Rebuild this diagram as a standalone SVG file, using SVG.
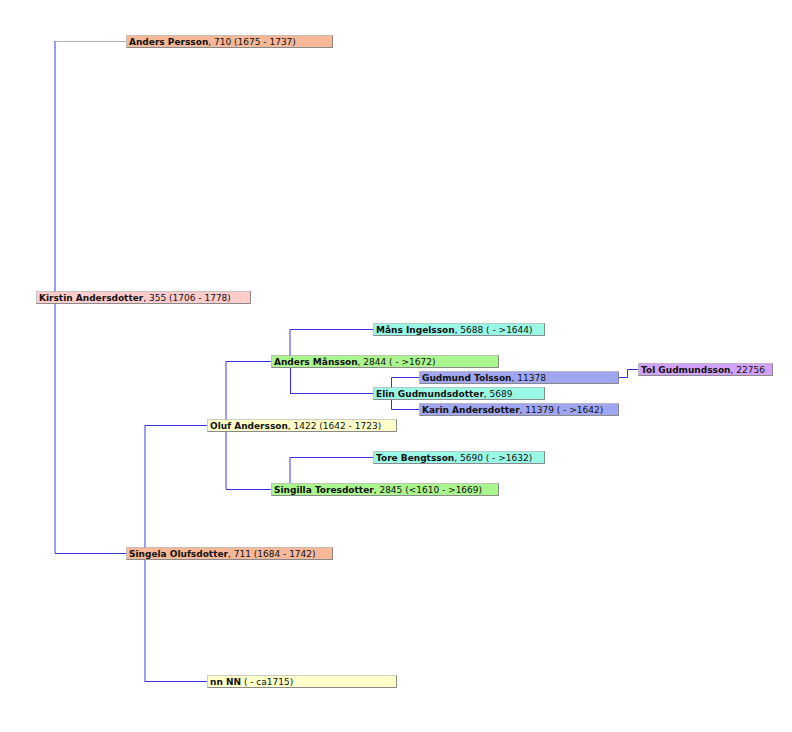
<svg xmlns="http://www.w3.org/2000/svg" width="792" height="732" viewBox="0 0 792 732">
<style>
.bg{fill:#ffffff}
.box{stroke:#9a9a9a;stroke-width:1;stroke-dasharray:1 1}
.sh{fill:none;stroke:#8a8a8a;stroke-width:1}
.t{font-family:"DejaVu Sans",Verdana,sans-serif;font-size:9px;fill:#111}
.n{font-weight:bold}
.v{fill:none;stroke:#9c9cf6;stroke-width:2}
.h{fill:none;stroke:#3333d8;stroke-width:1}
.g{fill:none;stroke:#b4b4b4;stroke-width:1}
.salmon{fill:#f5b899}
.pink{fill:#ffcccc}
.yellow{fill:#ffffcc}
.green{fill:#aaf58e}
.aqua{fill:#99f7e6}
.blue{fill:#a0a6f0}
.violet{fill:#d2a2f8}
</style>
<rect class="bg" x="0" y="0" width="792" height="732"/>
<g id="connectors">
  <path class="g" d="M55 41.5H126"/>
  <path class="v" d="M55 41V553"/>
  <path class="h" d="M55 553.5H126"/>
  <path class="v" d="M145 425V682"/>
  <path class="h" d="M145 425.5H207"/>
  <path class="h" d="M145 681.5H207"/>
  <path class="v" d="M226 361V489"/>
  <path class="h" d="M226 361.5H271"/>
  <path class="h" d="M226 489.5H271"/>
  <path class="v" d="M290 329V368"/>
  <path class="h" d="M290.5 368V393.5"/>
  <path class="h" d="M290 329.5H373"/>
  <path class="h" d="M290 393.5H373"/>
  <path class="v" d="M290 457V483"/>
  <path class="h" d="M290 457.5H373"/>
  <path class="h" d="M391.5 377.5V409.5"/>
  <path class="h" d="M391.5 377.5H419"/>
  <path class="h" d="M391.5 409.5H419"/>
  <path class="h" d="M619 377.5H627.5V369.5H638"/>
</g>
<g id="n710">
  <rect class="box salmon" x="126.5" y="35.5" width="206" height="12"/>
  <path class="sh" d="M126.5 47.5H332.5V35.5"/>
  <text class="t" x="129" y="45"><tspan class="n">Anders Persson</tspan>, 710 (1675 - 1737)</text>
</g>
<g id="n355">
  <rect class="box pink" x="36.5" y="291.5" width="214" height="12"/>
  <path class="sh" d="M36.5 303.5H250.5V291.5"/>
  <text class="t" x="39" y="301"><tspan class="n">Kirstin Andersdotter</tspan>, 355 (1706 - 1778)</text>
</g>
<g id="n5688">
  <rect class="box aqua" x="373.5" y="323.5" width="171" height="12"/>
  <path class="sh" d="M373.5 335.5H544.5V323.5"/>
  <text class="t" x="376" y="333"><tspan class="n">Måns Ingelsson</tspan>, 5688 ( - &gt;1644)</text>
</g>
<g id="n2844">
  <rect class="box green" x="271.5" y="355.5" width="227" height="12"/>
  <path class="sh" d="M271.5 367.5H498.5V355.5"/>
  <text class="t" x="274" y="365"><tspan class="n">Anders Månsson</tspan>, 2844 ( - &gt;1672)</text>
</g>
<g id="n11378">
  <rect class="box blue" x="419.5" y="371.5" width="199" height="12"/>
  <path class="sh" d="M419.5 383.5H618.5V371.5"/>
  <text class="t" x="422" y="381"><tspan class="n">Gudmund Tolsson</tspan>, 11378</text>
</g>
<g id="n22756">
  <rect class="box violet" x="638.5" y="363.5" width="134" height="12"/>
  <path class="sh" d="M638.5 375.5H772.5V363.5"/>
  <text class="t" x="641" y="373"><tspan class="n">Tol Gudmundsson</tspan>, 22756</text>
</g>
<g id="n5689">
  <rect class="box aqua" x="373.5" y="387.5" width="171" height="12"/>
  <path class="sh" d="M373.5 399.5H544.5V387.5"/>
  <text class="t" x="376" y="397"><tspan class="n">Elin Gudmundsdotter</tspan>, 5689</text>
</g>
<g id="n11379">
  <rect class="box blue" x="419.5" y="403.5" width="199" height="12"/>
  <path class="sh" d="M419.5 415.5H618.5V403.5"/>
  <text class="t" x="422" y="413"><tspan class="n">Karin Andersdotter</tspan>, 11379 ( - &gt;1642)</text>
</g>
<g id="n1422">
  <rect class="box yellow" x="207.5" y="419.5" width="189" height="12"/>
  <path class="sh" d="M207.5 431.5H396.5V419.5"/>
  <text class="t" x="210" y="429"><tspan class="n">Oluf Andersson</tspan>, 1422 (1642 - 1723)</text>
</g>
<g id="n5690">
  <rect class="box aqua" x="373.5" y="451.5" width="171" height="12"/>
  <path class="sh" d="M373.5 463.5H544.5V451.5"/>
  <text class="t" x="376" y="461"><tspan class="n">Tore Bengtsson</tspan>, 5690 ( - &gt;1632)</text>
</g>
<g id="n2845">
  <rect class="box green" x="271.5" y="483.5" width="227" height="12"/>
  <path class="sh" d="M271.5 495.5H498.5V483.5"/>
  <text class="t" x="274" y="493"><tspan class="n">Singilla Toresdotter</tspan>, 2845 (&lt;1610 - &gt;1669)</text>
</g>
<g id="n711">
  <rect class="box salmon" x="126.5" y="547.5" width="206" height="12"/>
  <path class="sh" d="M126.5 559.5H332.5V547.5"/>
  <text class="t" x="129" y="557"><tspan class="n">Singela Olufsdotter</tspan>, 711 (1684 - 1742)</text>
</g>
<g id="nNN">
  <rect class="box yellow" x="207.5" y="675.5" width="189" height="12"/>
  <path class="sh" d="M207.5 687.5H396.5V675.5"/>
  <text class="t" x="210" y="685"><tspan class="n">nn NN</tspan> ( - ca1715)</text>
</g>
</svg>
